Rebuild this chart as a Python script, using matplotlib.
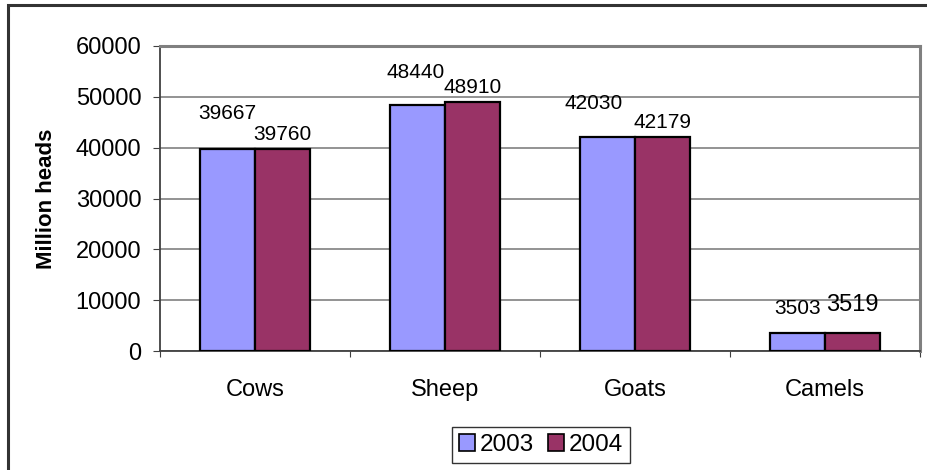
import matplotlib
matplotlib.use("Agg")
import matplotlib.pyplot as plt
import numpy as np
from matplotlib.patches import Rectangle, Patch

plt.rcParams['font.family'] = ['Liberation Sans', 'DejaVu Sans']

categories = ["Cows", "Sheep", "Goats", "Camels"]
years = ["2003", "2004"]
values_2003 = [39667, 48440, 42030, 3503]
values_2004 = [39760, 48910, 42179, 3519]
y_ticks = [0, 10000, 20000, 30000, 40000, 50000, 60000]

colors = ["#9999FF", "#993366"]

W, H = 928, 470
fig = plt.figure(figsize=(W / 100, H / 100), dpi=100)
fig.patch.set_facecolor("white")

# outer chart border
fig.patches.append(Rectangle((8 / W, -0.05), 1.2, (H - 5) / H + 0.05,
                             transform=fig.transFigure, fill=False,
                             edgecolor="#333333", linewidth=2.2))

ax = fig.add_axes([160 / W, (H - 351) / H, (920 - 160) / W, (351 - 46) / H])

x = np.arange(len(categories)) + 0.5
bw = 0.29
ax.bar(x - bw / 2, values_2003, bw, color=colors[0], edgecolor="black", linewidth=1.6, zorder=3)
ax.bar(x + bw / 2, values_2004, bw, color=colors[1], edgecolor="black", linewidth=1.6, zorder=3)

ax.set_xlim(0, len(categories))
ax.set_ylim(0, 60000)
ax.set_yticks(y_ticks)
ax.set_yticklabels([str(t) for t in y_ticks], fontsize=17)
ax.yaxis.grid(True, color="#808080", linewidth=1.2, zorder=0)
ax.set_axisbelow(True)

# category boundary ticks and centered labels
ax.set_xticks(np.arange(len(categories) + 1))
ax.set_xticklabels([])
ax.tick_params(axis="x", which="major", direction="out", length=4.3, color="#404040")
ax.set_xticks(x, minor=True)
ax.set_xticklabels(categories, minor=True, fontsize=17)
ax.tick_params(axis="x", which="minor", length=0, pad=20)
ax.tick_params(axis="y", direction="out", length=5, pad=8.5, color="#404040")

for s in ["left", "bottom"]:
    ax.spines[s].set_color("#404040")
    ax.spines[s].set_linewidth(1.3)
for s in ["top", "right"]:
    ax.spines[s].set_color("#808080")
    ax.spines[s].set_linewidth(2.2)

ax.set_ylabel("Million heads", fontsize=16, fontweight="bold", labelpad=13)

# data labels (Excel-style placement offsets, in pixels)
off_2003 = [(0, 36), (-2, 32), (-14, 34), (0, 25)]
off_2004 = [(0, 14), (0, 15), (0, 14), (0, 28)]
size_2004 = [15, 15, 15, 17]
for i, v in enumerate(values_2003):
    ax.annotate(str(v), (x[i] - bw / 2, v), xytext=off_2003[i], textcoords="offset pixels",
                ha="center", va="center", fontsize=15)
for i, v in enumerate(values_2004):
    ax.annotate(str(v), (x[i] + bw / 2, v), xytext=off_2004[i], textcoords="offset pixels",
                ha="center", va="center", fontsize=size_2004[i])

handles = [Patch(facecolor=colors[0], edgecolor="black", linewidth=1.2),
           Patch(facecolor=colors[1], edgecolor="black", linewidth=1.2)]
leg = fig.legend(handles, years, loc="center", bbox_to_anchor=(541 / W, (H - 445) / H),
                 ncol=2, fontsize=17.5, frameon=True, fancybox=False, shadow=False,
                 handlelength=0.65, handleheight=0.65, handletextpad=0.2, columnspacing=0.6,
                 borderpad=0.3, borderaxespad=0)
leg.get_frame().set_edgecolor("black")
leg.get_frame().set_linewidth(1.0)

fig.savefig("out.png", dpi=100, facecolor="white")
